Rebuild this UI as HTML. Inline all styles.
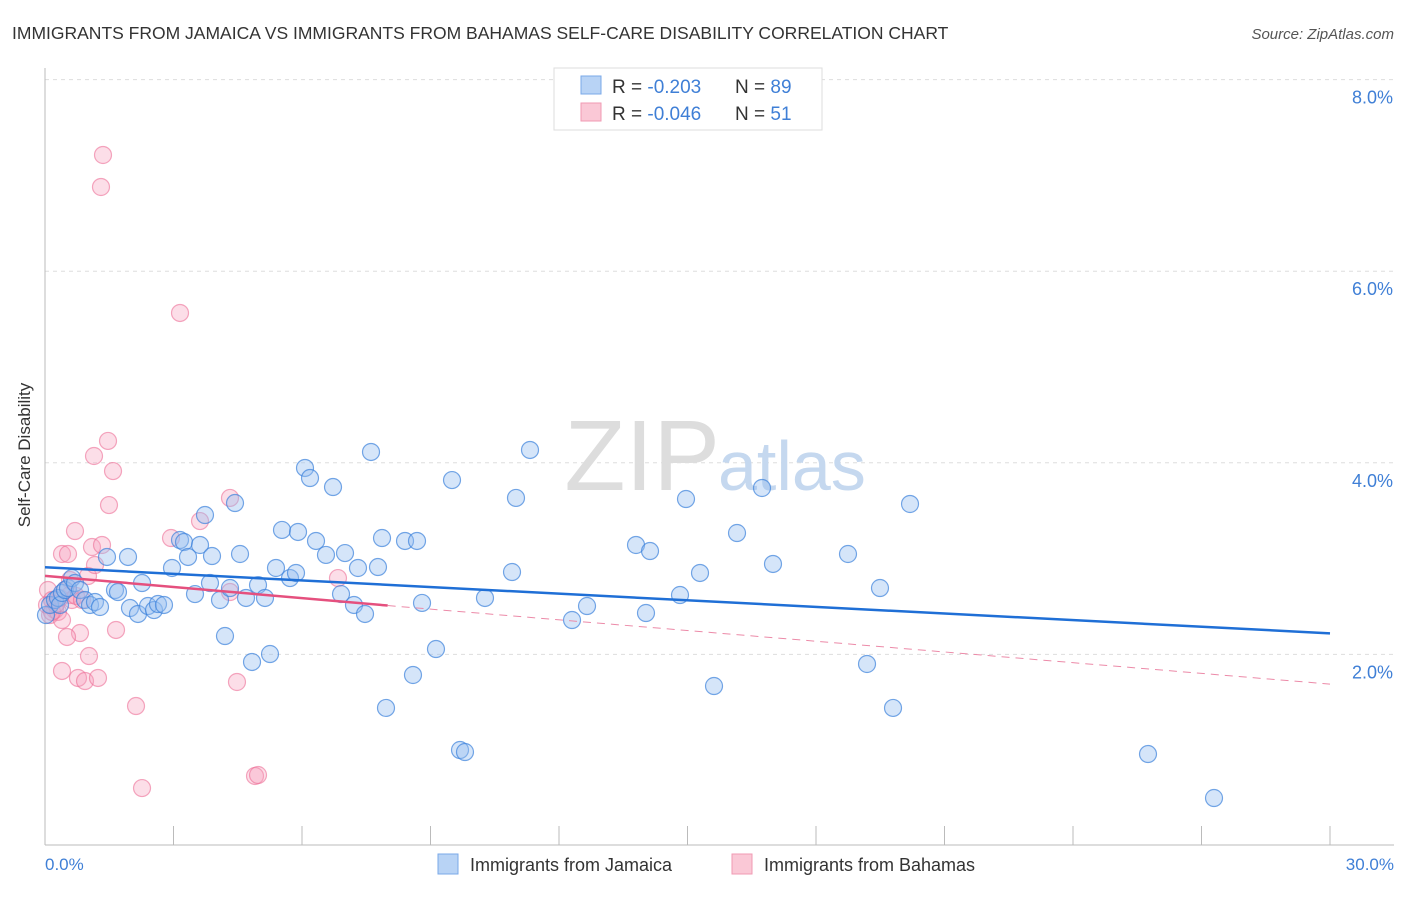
<!DOCTYPE html>
<html><head><meta charset="utf-8"><style>
body{margin:0;background:#fff;font-family:"Liberation Sans",sans-serif;}
svg text{font-family:"Liberation Sans",sans-serif;}
</style></head><body>
<svg width="1406" height="892" viewBox="0 0 1406 892">
<text x="12" y="39" font-size="17.5" fill="#333">IMMIGRANTS FROM JAMAICA VS IMMIGRANTS FROM BAHAMAS SELF-CARE DISABILITY CORRELATION CHART</text>
<text x="1394" y="39" font-size="15" fill="#555" font-style="italic" text-anchor="end">Source: ZipAtlas.com</text>
<g id="grid"></g>
<text x="720" y="490" font-size="100" fill="#ddd" font-family="Liberation Serif,serif" text-anchor="end">ZIP</text>
<text x="718" y="490" font-size="70" fill="#c5d8ef">atlas</text>
<line x1="45" y1="68" x2="45" y2="845" stroke="#bbb"/>
<line x1="45" y1="845" x2="1394" y2="845" stroke="#bbb"/>
<g id="xticks"></g>
<text x="30" y="455" font-size="17" fill="#333" text-anchor="middle" transform="rotate(-90 30 455)">Self-Care Disability</text>
<text x="45" y="870" font-size="17" fill="#3f7fd6">0.0%</text>
<text x="1394" y="870" font-size="17" fill="#3f7fd6" text-anchor="end">30.0%</text>
<g id="pts"></g>
<g id="lines"></g>
<rect x="554" y="68" width="268" height="62" fill="#fff" stroke="#ddd"/>
<rect x="581" y="76" width="20" height="18" fill="#b8d3f5" stroke="#7aa8e8"/>
<rect x="581" y="103" width="20" height="18" fill="#fac8d6" stroke="#f09ab3"/>
<text x="612" y="93" font-size="19" fill="#333">R = <tspan fill="#3f7fd6">-0.203</tspan><tspan x="735">N = </tspan><tspan fill="#3f7fd6">89</tspan></text>
<text x="612" y="120" font-size="19" fill="#333">R = <tspan fill="#3f7fd6">-0.046</tspan><tspan x="735">N = </tspan><tspan fill="#3f7fd6"> 51</tspan></text>
<rect x="438" y="854" width="20" height="20" fill="#b8d3f5" stroke="#7aa8e8"/>
<text x="470" y="871" font-size="18" fill="#333">Immigrants from Jamaica</text>
<rect x="732" y="854" width="20" height="20" fill="#fac8d6" stroke="#f09ab3"/>
<text x="764" y="871" font-size="18" fill="#333">Immigrants from Bahamas</text>
</svg>
<script>
const yTicks=[2,4,6,8];
const xTickVals=[0,3,6,9,12,15,18,21,24,27,30];
const jamaicaPx=[[46,615],[50,605],[55,600],[58,598],[60,605],[62,593],[65,590],[68,588],[72,578],[75,583],[80,590],[85,600],[90,605],[95,602],[100,607],[107,557],[115,590],[118,592],[128,557],[130,608],[138,614],[142,583],[148,606],[154,610],[158,604],[164,605],[172,568],[180,540],[184,542],[188,557],[195,594],[200,545],[205,515],[210,583],[212,556],[220,600],[225,636],[230,588],[235,503],[240,554],[246,598],[252,662],[258,585],[265,598],[270,654],[276,568],[282,530],[290,578],[296,573],[298,532],[305,468],[310,478],[316,541],[326,555],[333,487],[341,594],[345,553],[354,605],[358,568],[365,614],[371,452],[378,567],[382,538],[386,708],[405,541],[413,675],[417,541],[422,603],[436,649],[452,480],[460,750],[465,752],[485,598],[512,572],[516,498],[530,450],[572,620],[587,606],[636,545],[646,613],[650,551],[680,595],[686,499],[700,573],[714,686],[737,533],[762,488],[773,564],[848,554],[867,664],[880,588],[893,708],[910,504],[1148,754],[1214,798]];
const bahamasPx=[[103,155],[101,187],[180,313],[108,441],[94,456],[113,471],[109,505],[230,498],[75,531],[200,521],[171,538],[62,554],[68,554],[92,547],[102,545],[88,576],[95,565],[230,592],[338,578],[48,590],[52,600],[55,610],[50,615],[58,612],[62,620],[60,598],[65,590],[70,595],[72,600],[76,596],[82,600],[70,580],[80,633],[67,637],[116,630],[62,671],[89,656],[78,678],[85,681],[98,678],[136,706],[237,682],[142,788],[255,776],[258,775],[47,605],[52,612],[56,604]];
// convert pixel reads to data values
const jamaicaX=jamaicaPx.map(p=>+((p[0]-45)/1285*30).toFixed(3));
const jamaicaY=jamaicaPx.map(p=>+((846-p[1])/95.8).toFixed(3));
const bahamasX=bahamasPx.map(p=>+((p[0]-45)/1285*30).toFixed(3));
const bahamasY=bahamasPx.map(p=>+((846-p[1])/95.8).toFixed(3));
const jamaicaTrend=[[0,2.91],[30,2.22]];
const bahamasTrend=[[0,2.82],[8,2.51],[30,1.69]];
const NS='http://www.w3.org/2000/svg';
const sx=v=>45+v/30*1285, sy=v=>846-v*95.8;
function mk(t,a,p){const e=document.createElementNS(NS,t);for(const k in a)e.setAttribute(k,a[k]);p.appendChild(e);return e;}
const grid=document.getElementById('grid');
yTicks.forEach(v=>{
 const l=mk('line',{x1:45,x2:1394,y1:sy(v),y2:sy(v),stroke:'#ddd','stroke-dasharray':'4 4'},grid);
 
 
 const t=mk('text',{x:1393,y:sy(v)+24,'font-size':18,fill:'#3f7fd6','text-anchor':'end'},grid);
 t.textContent=v.toFixed(1)+'%';
 
 
});
const xt=document.getElementById('xticks');
xTickVals.forEach(v=>{
 const l=mk('line',{x1:sx(v),x2:sx(v),y1:826,y2:845,stroke:'#bbb'},xt);
 
 
});
const pts=document.getElementById('pts');
bahamasX.forEach((x,i)=>{
 const c=mk('circle',{cx:sx(x),cy:sy(bahamasY[i]),r:8.5,fill:'rgba(246,160,188,0.35)',stroke:'rgba(236,110,150,0.6)','stroke-width':1.2},pts);
 
 
});
jamaicaX.forEach((x,i)=>{
 const c=mk('circle',{cx:sx(x),cy:sy(jamaicaY[i]),r:8.5,fill:'rgba(150,190,240,0.4)',stroke:'rgba(60,130,220,0.7)','stroke-width':1.2},pts);
 
 
});
const lg=document.getElementById('lines');
let l1=mk('line',{x1:sx(jamaicaTrend[0][0]),y1:sy(jamaicaTrend[0][1]),x2:sx(jamaicaTrend[1][0]),y2:sy(jamaicaTrend[1][1]),stroke:'#1f6fd6','stroke-width':2.5},lg);


let l2=mk('line',{x1:sx(bahamasTrend[0][0]),y1:sy(bahamasTrend[0][1]),x2:sx(bahamasTrend[1][0]),y2:sy(bahamasTrend[1][1]),stroke:'#e5507e','stroke-width':2.5},lg);


let l3=mk('line',{x1:sx(bahamasTrend[1][0]),y1:sy(bahamasTrend[1][1]),x2:sx(bahamasTrend[2][0]),y2:sy(bahamasTrend[2][1]),stroke:'#ec8aa8','stroke-width':1,'stroke-dasharray':'8 6'},lg);


</script>
</body></html>
